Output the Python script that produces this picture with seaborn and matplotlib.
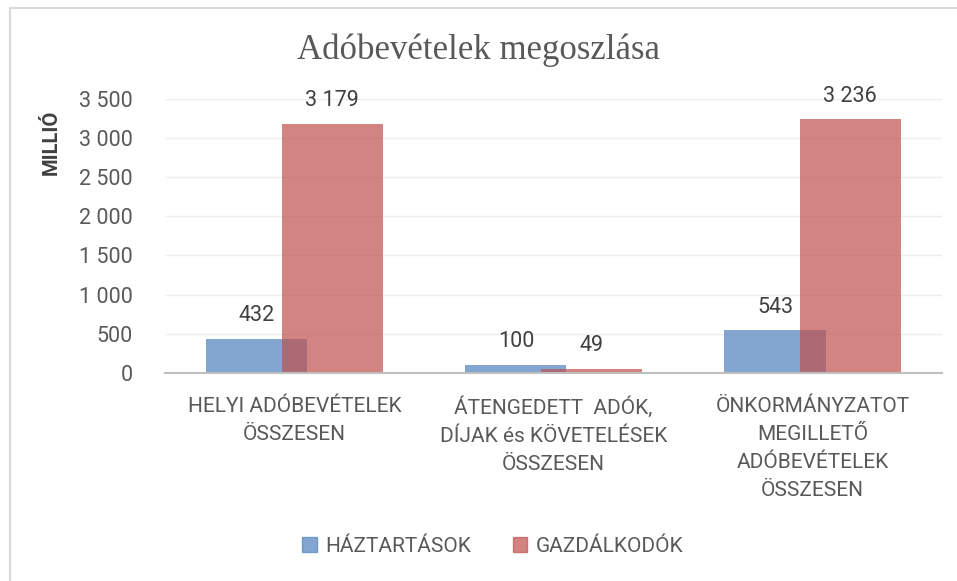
import pandas as pd
import matplotlib
matplotlib.use("Agg")
import matplotlib.pyplot as plt
from matplotlib.patches import Rectangle
import seaborn as sns

categories = ["HELYI ADÓBEVÉTELEK\nÖSSZESEN",
              "ÁTENGEDETT  ADÓK,\nDÍJAK és KÖVETELÉSEK\nÖSSZESEN",
              "ÖNKORMÁNYZATOT\nMEGILLETŐ\nADÓBEVÉTELEK\nÖSSZESEN"]
series = ["HÁZTARTÁSOK", "GAZDÁLKODÓK"]
haztartasok = [432, 100, 543]
gazdalkodok = [3179, 49, 3236]
colors = ["#4F81BD", "#C0504D"]
y_ticks = [0, 500, 1000, 1500, 2000, 2500, 3000, 3500]

df = pd.DataFrame({
    "kategoria": categories * 2,
    "sorozat": [series[0]] * 3 + [series[1]] * 3,
    "ertek": haztartasok + gazdalkodok,
})

sns.set_style("white")
plt.rcParams["font.family"] = ["Roboto", "DejaVu Sans"]
text_col = "#595959"

fig = plt.figure(figsize=(9.57, 5.81), dpi=100)
ax = fig.add_axes([0.1724, 0.358, 0.812, 0.472])

sns.barplot(data=df, x="kategoria", y="ertek", hue="sorozat", hue_order=series,
            palette=colors, width=0.58, alpha=0.7, ax=ax, legend=False,
            saturation=1, linewidth=0)

# widen the bars so the red one overlaps the blue one (Excel-like overlap)
bar_w = 0.39
for p in ax.patches:
    c = p.get_x() + p.get_width() / 2
    p.set_x(c - bar_w / 2)
    p.set_width(bar_w)

# data labels
for p in ax.patches:
    v = p.get_height()
    ax.text(p.get_x() + p.get_width() / 2, v + 165, f"{v:,.0f}".replace(",", " "),
            ha="center", va="bottom", fontsize=15.5, color="#404040")

ax.set_xlim(-0.5, 2.5)
ax.set_ylim(0, 3500)
ax.set_yticks(y_ticks)
ax.set_yticklabels([f"{t:,}".replace(",", " ") for t in y_ticks])
ax.grid(axis="y", color="#eeeeee", linewidth=1)
ax.set_axisbelow(True)
for s in ["top", "right", "left"]:
    ax.spines[s].set_visible(False)
ax.spines["bottom"].set_color("#bfbfbf")
ax.spines["bottom"].set_linewidth(1.5)
ax.tick_params(axis="y", length=0, labelsize=15.5, colors=text_col, pad=23)
ax.tick_params(axis="x", length=0, labelsize=15, colors=text_col, pad=17)
for lbl in ax.get_xticklabels():
    lbl.set_linespacing(1.6)

ax.set_xlabel("")
ax.set_ylabel("MILLIÓ", fontsize=14.5, color="#404040", fontweight="bold")
ax.yaxis.set_label_coords(-0.134, 0.84)

fig.text(0.5, 0.914, "Adóbevételek megoszlása", ha="center", va="center",
         fontsize=25, color="#595959", family=["Liberation Serif", "DejaVu Serif"])

handles = [Rectangle((0, 0), 1, 1, color=c, alpha=0.7) for c in colors]
fig.legend(handles, series, loc="center", bbox_to_anchor=(0.515, 0.06), ncol=2,
           frameon=False, fontsize=15, handlelength=0.7, handleheight=0.7,
           columnspacing=2.0, handletextpad=0.4, labelcolor=text_col)

fig.patches.append(Rectangle((10 / 957, -0.1), 1.2, 1 - 8 / 581 + 0.1,
                             transform=fig.transFigure, fill=False,
                             edgecolor="#d9d9d9", linewidth=1.5))

fig.savefig("out.png", dpi=100)
